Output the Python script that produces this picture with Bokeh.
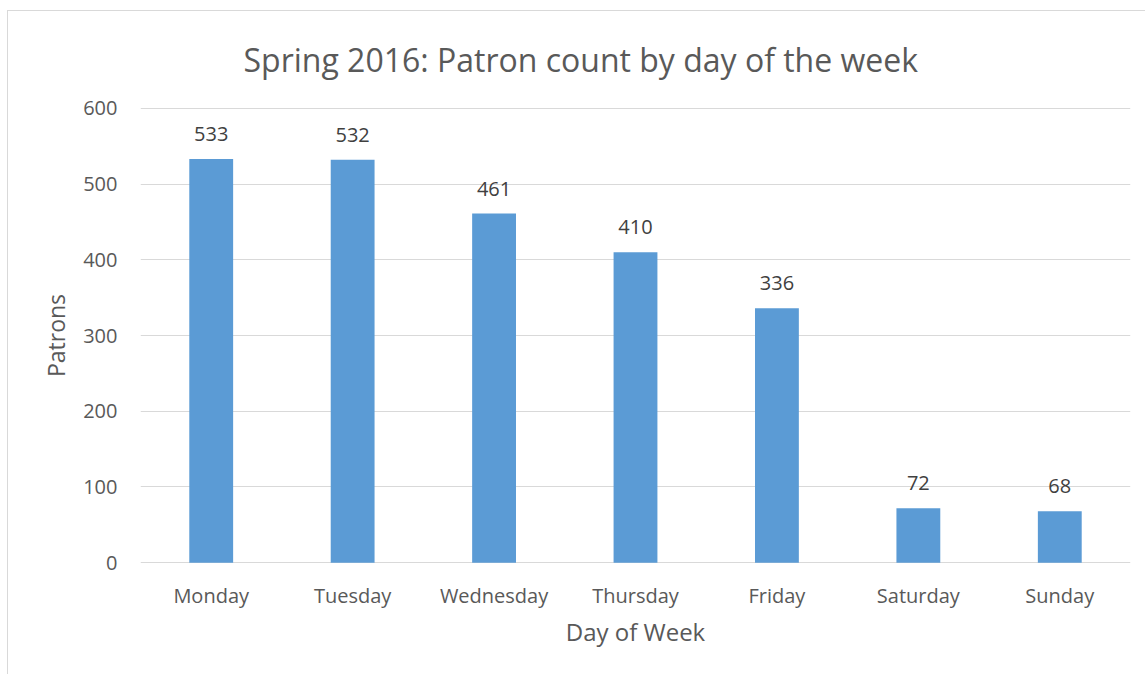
from bokeh.plotting import figure
from bokeh.models import FactorRange, Range1d, FixedTicker, Title, ColumnDataSource
from bokeh.core.properties import value
from bokeh.embed import file_html
from bokeh.resources import INLINE

days = ["Monday", "Tuesday", "Wednesday", "Thursday", "Friday", "Saturday", "Sunday"]
patrons = [533, 532, 461, 410, 336, 72, 68]
y_ticks = [0, 100, 200, 300, 400, 500, 600]
title_text = "Spring 2016: Patron count by day of the week"
x_label = "Day of Week"
y_label = "Patrons"

FONT = "Open Sans"
GREY = "#595959"

# figure placed at page (7, 10) with a 1px CSS border on top/left
W, H = 1138, 664
FL, FT, FR, FB = 132, 96, 1122, 552  # frame edges in canvas px
p = figure(width=W, height=H, x_range=FactorRange(factors=days, range_padding=0),
           y_range=Range1d(-1, 601), output_backend="svg", toolbar_location=None,
           min_border_left=FL, min_border_right=W - FR, min_border_top=FT,
           min_border_bottom=H - FB, title=None)
p.margin = (10, 0, 0, 7)
p.styles = {"border-top": "1px solid #D9D9D9", "border-left": "1px solid #D9D9D9"}
p.outline_line_color = None

src = ColumnDataSource(dict(day=days, n=patrons, lab=[str(v) for v in patrons]))
p.vbar(x="day", top="n", width=0.31, source=src, color="#5B9BD5", line_color=None)
p.text(x="day", y="n", text="lab", source=src, text_align="center", text_baseline="alphabetic",
       y_offset=-25, text_font=value(FONT), text_font_size="20px", text_color="#404040")

p.yaxis.ticker = FixedTicker(ticks=y_ticks)
p.ygrid.grid_line_color = "#D9D9D9"
p.ygrid.grid_line_width = 1
p.xgrid.grid_line_color = None

for ax in (p.xaxis[0], p.yaxis[0]):
    ax.axis_line_color = None
    ax.major_tick_line_color = None
    ax.minor_tick_line_color = None
    ax.major_label_text_font = FONT
    ax.major_label_text_font_size = "20px"
    ax.major_label_text_color = GREY
    ax.axis_label_text_font = FONT
    ax.axis_label_text_font_style = "normal"
    ax.axis_label_text_color = GREY

p.yaxis.major_label_standoff = 17
p.yaxis.axis_label = y_label
p.yaxis.axis_label_text_font_size = "23px"
p.yaxis.axis_label_standoff = 8

p.xaxis.major_label_standoff = 12
p.xaxis.axis_label = x_label
p.xaxis.axis_label_text_font_size = "24px"
p.xaxis.axis_label_standoff = 3

p.add_layout(Title(text=title_text, align="left", offset=103, standoff=50,
                   vertical_align="top",
                   text_font=FONT, text_font_size="32px", text_font_style="normal",
                   text_color=GREY), "above")

open("out.html", "w").write(file_html(p, INLINE))
